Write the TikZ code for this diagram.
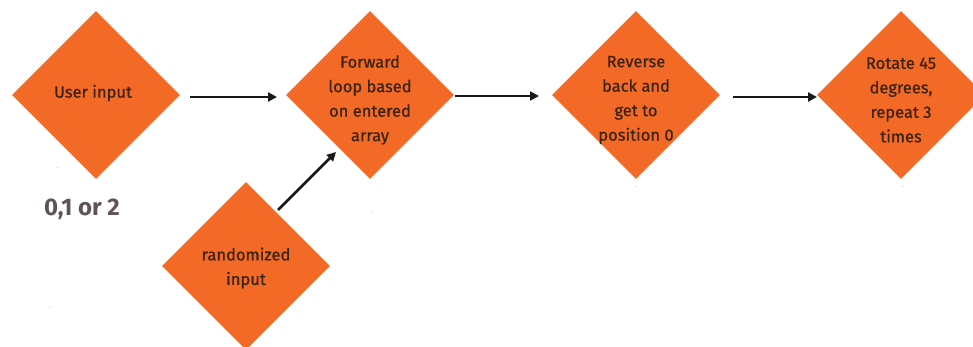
\documentclass[tikz,border=0pt]{standalone}
\usepackage{fontspec}
\setmainfont{Fira Sans}
\newfontfamily\medfont{Fira Sans}[FakeBold=0.6]
\usetikzlibrary{shapes.geometric,arrows.meta}
\definecolor{dorange}{HTML}{F26A25}
\definecolor{dtext}{HTML}{3A2214}
\definecolor{dgray}{HTML}{5E5456}
\tikzset{
  dia/.style={diamond, fill=dorange, draw=none, inner sep=0pt, minimum width=168pt, minimum height=168pt},
  lbl/.style={align=center, text=dtext, inner sep=0pt, font=\medfont\fontsize{16.5}{24.5}\selectfont},
  flow/.style={line width=2.6pt, draw=black!90, -{Triangle[length=9pt,width=9pt]}},
  speck/.style={text=gray, font=\fontsize{6}{6}\selectfont, inner sep=0pt}
}
\begin{document}
\begin{tikzpicture}[x=1pt,y=-1pt]
\useasboundingbox (0,0) rectangle (973,347);
\node[dia] (a) at (96,95) {};
\node[dia] (b) at (370,95) {};
\node[dia] (c) at (636,95) {};
\node[dia] (d) at (901,95) {};
\node[dia] (e) at (246,266) {};
\node[lbl] (at) at (93,93) {User input};
\node[lbl] (bt) at (370,100) {Forward\\loop based\\on entered\\array};
\node[lbl] (ct) at (636,100) {Reverse\\back and\\get to\\position 0};
\node[lbl] (dt) at (901,100) {Rotate 45\\degrees,\\repeat 3\\times};
\node[lbl] (et) at (246,268) {randomized\\input};
\node[text=dgray, font=\fontsize{24}{24}\selectfont\bfseries] (t) at (82,209) {0,1 or 2};
\node[speck] (s1) at (58,168) {.};
\node[speck] (s2) at (50,308) {.};
\node[speck] (s3) at (373,212) {.};
\node[speck] (s4) at (636,187) {.};
\node[speck] (s5) at (903,187) {.};
\coordinate (a1) at (190,97);
\coordinate (a2) at (277,97);
\coordinate (b1) at (455,96);
\coordinate (b2) at (539,96);
\coordinate (c1) at (733,97);
\coordinate (c2) at (817,97);
\coordinate (e1) at (278,210);
\coordinate (e2) at (336,152);
\draw[flow] (a1) -- (a2);
\draw[flow] (b1) -- (b2);
\draw[flow] (c1) -- (c2);
\draw[flow] (e1) -- (e2);
\end{tikzpicture}
\end{document}
